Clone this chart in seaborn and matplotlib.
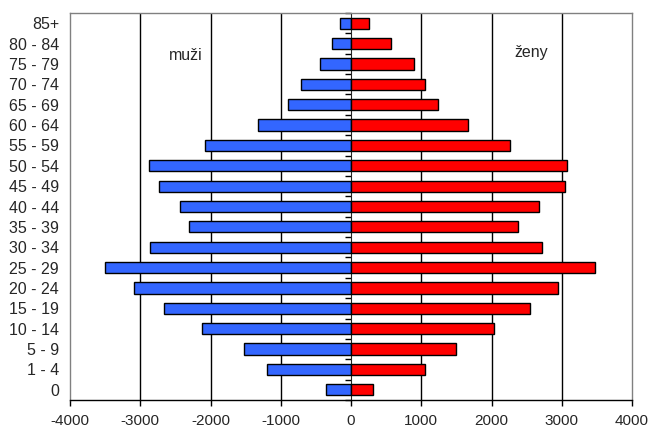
import numpy as np
import pandas as pd
import matplotlib
matplotlib.use('Agg')
import matplotlib.pyplot as plt
import seaborn as sns

# Age groups (top to bottom) and population by sex
age_groups = ['85+', '80 - 84', '75 - 79', '70 - 74', '65 - 69', '60 - 64', '55 - 59',
              '50 - 54', '45 - 49', '40 - 44', '35 - 39', '30 - 34', '25 - 29',
              '20 - 24', '15 - 19', '10 - 14', '5 - 9', '1 - 4', '0']
muzi = [150, 275, 445, 715, 900, 1325, 2075, 2875, 2740, 2435, 2300, 2855, 3505,
        3095, 2655, 2125, 1530, 1195, 355]
zeny = [255, 570, 890, 1050, 1235, 1665, 2260, 3080, 3045, 2670, 2380, 2725, 3475,
        2945, 2555, 2035, 1490, 1055, 315]
x_ticks = [-4000, -3000, -2000, -1000, 0, 1000, 2000, 3000, 4000]

df = pd.DataFrame({'vek': age_groups,
                   'muzi': -np.array(muzi),
                   'zeny': np.array(zeny)})

sns.set_style('white')
plt.rcParams['font.family'] = ['Liberation Sans', 'DejaVu Sans']

fig = plt.figure(figsize=(6.48, 4.28), dpi=100)
ax = fig.add_axes([70 / 648, 28 / 428, 562 / 648, 387 / 428])

# vertical gridlines
for v in [-3000, -2000, -1000, 1000, 2000, 3000]:
    ax.axvline(v, color='black', lw=1, zorder=0)

sns.barplot(data=df, x='muzi', y='vek', order=age_groups, color='#3366FF',
            width=0.55, edgecolor='black', linewidth=1, saturation=1, ax=ax, zorder=2)
sns.barplot(data=df, x='zeny', y='vek', order=age_groups, color='#FF0000',
            width=0.55, edgecolor='black', linewidth=1, saturation=1, ax=ax, zorder=2)

ax.set_xlim(-4000, 4000)
ax.set_ylim(len(age_groups) - 0.5, -0.5)
ax.set_xticks(x_ticks)
ax.set_xticklabels([str(t) for t in x_ticks])
ax.set_xlabel('')
ax.set_ylabel('')
ax.tick_params(axis='y', length=0, pad=8, labelsize=11.5)
ax.tick_params(axis='x', length=4, width=1, direction='out', color='black',
               bottom=True, pad=6, labelsize=11)

for s in ['top', 'right', 'left']:
    ax.spines[s].set_color('#808080')
    ax.spines[s].set_linewidth(1)
ax.spines['bottom'].set_color('black')
ax.spines['bottom'].set_linewidth(1)

# central axis with small ticks between age groups
sec = ax.secondary_yaxis(0.5)
sec.spines['left'].set_color('black')
sec.spines['left'].set_linewidth(1.2)
sec.set_yticks(np.arange(-0.5, len(age_groups), 1))
sec.set_yticklabels([])
sec.tick_params(length=4, width=1, direction='in', color='black')

ax.text(-2350, 1.6, 'muži', ha='center', va='center', fontsize=11.5)
ax.text(2560, 1.45, 'ženy', ha='center', va='center', fontsize=11.5)

fig.savefig('out.png', dpi=100)
